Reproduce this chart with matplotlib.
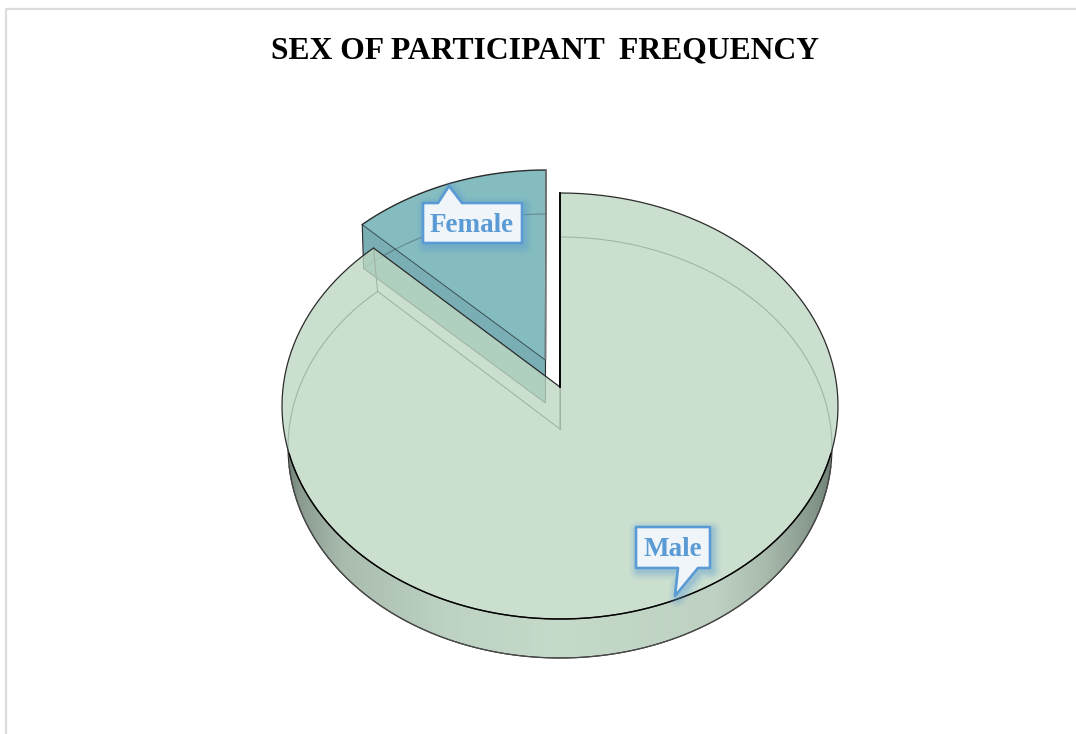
import matplotlib
matplotlib.use('Agg')
import matplotlib.pyplot as plt
import numpy as np
from matplotlib.colors import LinearSegmentedColormap
from matplotlib.patches import Polygon

labels = ['Male', 'Female']
shares = [88.3, 11.7]
title = 'SEX OF PARTICIPANT\u2009 FREQUENCY'

TOP_RX, TOP_RY = 278, 213
BASE_RX, BASE_RY = 272, 210.5
BLUE = '#5b9bd5'
EDGE = '#2b2b2b'

fig = plt.figure(figsize=(10.76, 7.34), dpi=100)
ax = fig.add_axes([0, 0, 1, 1])
ax.set_xlim(0, 1076)
ax.set_ylim(734, 0)
ax.axis('off')


def arc(cx, cy, rx, ry, t0, t1):
    # t is measured clockwise from twelve o'clock, in degrees
    t = np.radians(np.linspace(t0, t1, 300))
    return np.column_stack([cx + rx * np.sin(t), cy - ry * np.cos(t)])


def callout(pts, cx, cy, name):
    poly = np.array(pts, dtype=float)
    # soft blue shadow, built from stacked strokes
    for w in [17, 13, 10, 7.5, 5, 3]:
        ax.add_patch(Polygon(poly + [2, 3], closed=True, fc='none', ec=BLUE,
                             lw=w * 0.72, alpha=0.08, joinstyle='round', zorder=8))
    ax.add_patch(Polygon(poly, closed=True, fc='#eff5f9', ec=BLUE, lw=1.9,
                         joinstyle='round', zorder=9))
    ax.text(cx, cy, name, color=BLUE, fontsize=19.5, fontweight='bold',
            family='Liberation Serif', ha='center', va='center', zorder=10)


# page frame
ax.plot([6, 6, 1076], [734, 8.5, 8.5], color='#dcdcdc', lw=1.6, zorder=1)

ax.text(545, 50.5, title, fontsize=22.8, fontweight='bold', family='Liberation Serif',
        ha='center', va='center', color='black', zorder=10)

male_angle = 360 * shares[0] / sum(shares)
female_angle = 360 - male_angle

# exploded slice: wall first, then the top face
f_top = arc(546, 381, 274, 211, -female_angle, 0)
f_base = arc(546, 424.5, BASE_RX, BASE_RY, -female_angle, 0)
f_apex = [545.5, 360]
f_apex_low = [545.5, 403]
ax.add_patch(Polygon([f_top[0], f_apex, f_apex_low, f_base[0]], closed=True,
                     fc='#78aeb4', ec=EDGE, lw=0.8, zorder=2))
ax.add_patch(Polygon(np.vstack([f_top, [f_apex]]), closed=True, fc='#65abaf', ec='none',
                     alpha=0.8, zorder=3))
ax.plot(f_base[:, 0], f_base[:, 1], color=EDGE, lw=0.8, alpha=0.35, zorder=4)
ax.plot(*np.vstack([f_top, [f_apex]]).T, color=EDGE, lw=1.0, zorder=4)
ax.plot([f_top[-1, 0], f_apex[0]], [f_top[-1, 1], f_apex[1]], color='#777777', lw=1.0, zorder=4)

# big slice: rim below the top face with a left-right shading
xs = np.linspace(288, 832, 500)
rim_top = 406 + TOP_RY * np.sqrt(1 - ((xs - 560) / TOP_RX) ** 2)
rim_base = 447.5 + BASE_RY * np.sqrt(np.clip(1 - ((xs - 560) / BASE_RX) ** 2, 0, 1))
keep = rim_base >= rim_top
rim = np.vstack([np.column_stack([xs[keep], rim_top[keep]]),
                 np.column_stack([xs[keep], rim_base[keep]])[::-1]])
rim_cmap = LinearSegmentedColormap.from_list('rim', [
    (0.0, '#6f8176'), (0.02, '#8a9a8f'), (0.1, '#a9bcae'), (0.29, '#bdd2c2'), (0.5, '#c5dac9'),
    (0.79, '#bed1c2'), (0.88, '#a9bbad'), (0.97, '#84958a'), (1.0, '#6f8176')])
img = ax.imshow(np.linspace(0, 1, 256)[None, :], extent=[288, 832, 660, 400], cmap=rim_cmap,
                aspect='auto', zorder=4.5)
rim_patch = Polygon(rim, closed=True, fc='none', ec='none', transform=ax.transData)
ax.add_patch(rim_patch)
img.set_clip_path(rim_patch)
ax.set_xlim(0, 1076)
ax.set_ylim(734, 0)

# lower outline of the slice, it shows through the top face
m_apex = [560, 387]
m_apex_low = [560, 429]
m_top = arc(560, 406, TOP_RX, TOP_RY, 0, male_angle)
m_base = arc(560, 447.5, BASE_RX, BASE_RY, 0, male_angle)
ax.plot(*np.vstack([[m_apex_low], m_base, [m_top[-1]]]).T, color=EDGE, lw=0.8, zorder=4.6)
ax.plot([m_apex[0], m_apex_low[0]], [m_apex[1], m_apex_low[1]], color=EDGE, lw=0.8, zorder=4.6)
ax.plot([m_base[-1, 0], m_apex_low[0]], [m_base[-1, 1], m_apex_low[1]], color=EDGE, lw=0.8, zorder=4.6)

face = np.vstack([[m_apex], m_top])
ax.add_patch(Polygon(face, closed=True, fc='#bed8c3', ec='none', alpha=0.8, zorder=5))
ax.plot(*np.vstack([face, [m_apex]]).T, color=EDGE, lw=0.9, zorder=6)
ax.plot([m_apex[0], m_apex[0]], [193, 387], color='black', lw=1.3, zorder=6)

# outer silhouette of the rim, drawn above the top face
ax.plot(rim[:, 0][:keep.sum()], rim[:, 1][:keep.sum()], color='black', lw=1.0, zorder=6)
ax.plot(xs[keep], rim_base[keep], color='#4a4a4a', lw=0.9, zorder=6)

callout([(423, 203), (438, 203), (449, 186), (462, 203), (522, 203), (522, 243), (423, 243)],
        472, 226, labels[1])
callout([(636, 527), (710, 527), (710, 568), (698, 568), (675, 596), (678, 568), (636, 568)],
        673, 550, labels[0])

fig.savefig('out.png', dpi=100, facecolor='white')
